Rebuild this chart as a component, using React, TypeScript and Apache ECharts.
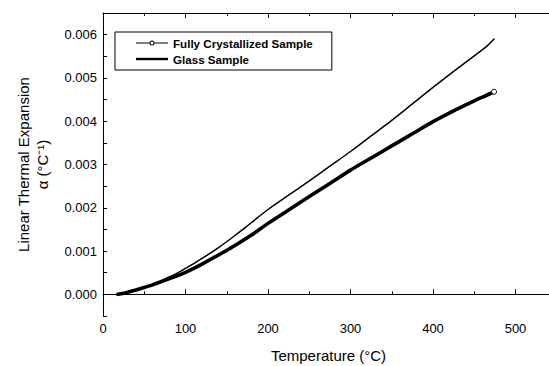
import React, { useEffect, useRef } from "react";
import * as echarts from "echarts";

const temps = [18, 30, 40, 50, 60, 70, 80, 90, 100, 110, 120, 140, 160, 180, 200, 225, 250, 275, 300, 325, 350, 375, 400, 425, 450, 465, 474];
const glassValues = [0, 0.00005, 0.0001, 0.00016, 0.00022, 0.0003, 0.0004, 0.00049, 0.0006, 0.00071, 0.00083, 0.00108, 0.00136, 0.00166, 0.00196, 0.00229, 0.00262, 0.00296, 0.0033, 0.00366, 0.00402, 0.0044, 0.00478, 0.00515, 0.00551, 0.00573, 0.0059];
const crystalValues = [0, 0.00005, 0.0001, 0.00016, 0.00022, 0.00029, 0.00036, 0.00043, 0.00051, 0.0006, 0.0007, 0.00091, 0.00113, 0.00137, 0.00164, 0.00195, 0.00226, 0.00256, 0.00287, 0.00315, 0.00343, 0.00371, 0.00399, 0.00424, 0.00447, 0.0046, 0.00468];
const seriesNames = ["Fully Crystallized Sample", "Glass Sample"];

const FONT = "Liberation Sans, Arial, Helvetica, sans-serif";

const crystalIcon =
  "path://M0,2.5L13.5,2.5L13.5,3.5L0,3.5Z M18.5,2.5L32,2.5L32,3.5L18.5,3.5Z M13.5,3A2.5,2.5,0,1,1,18.5,3A2.5,2.5,0,1,1,13.5,3Z M14.5,3A1.5,1.5,0,1,0,17.5,3A1.5,1.5,0,1,0,14.5,3Z";
const glassIcon = "path://M0,0L32,0L32,2.4L0,2.4Z";

export default function App() {
  const ref = useRef<HTMLDivElement>(null);
  useEffect(() => {
    if (!ref.current) return;
    const chart = echarts.init(ref.current, null, { renderer: "svg" });
    const crystalData = crystalValues.map((v, i) =>
      i === crystalValues.length - 1
        ? { value: [temps[i], v] }
        : { value: [temps[i], v], symbol: "none" }
    );
    const glassData = glassValues.map((v, i) => [temps[i], v]);
    const axisLineStyle = { color: "#000", width: 1 };
    chart.setOption({
      animation: false,
      backgroundColor: "#fff",
      textStyle: { fontFamily: FONT },
      grid: { left: 103, top: 13, right: -49, bottom: 50, containLabel: false, outerBoundsMode: "none" },
      legend: {
        orient: "vertical",
        left: 115,
        top: 32,
        padding: [5, 19, 5, 21],
        itemWidth: 32,
        itemHeight: 12,
        itemGap: 4,
        borderColor: "#000",
        borderWidth: 1,
        borderRadius: 0,
        selectedMode: false,
        textStyle: { fontFamily: FONT, fontWeight: "bold", fontSize: 11.6, color: "#000" },
        itemStyle: { borderWidth: 0 },
        data: [
          { name: seriesNames[0], icon: crystalIcon, itemStyle: { color: "#000", borderWidth: 0 } },
          { name: seriesNames[1], icon: glassIcon, itemStyle: { color: "#000", borderWidth: 0 } },
        ],
      },
      xAxis: [
        {
          type: "value",
          position: "bottom",
          min: 0,
          max: 600,
          interval: 100,
          axisLine: { show: true, lineStyle: axisLineStyle },
          axisTick: { show: true, inside: true, length: 5, lineStyle: axisLineStyle },
          minorTick: { show: true, splitNumber: 2, length: 3, lineStyle: axisLineStyle },
          splitLine: { show: false },
          axisLabel: { color: "#000", fontSize: 13, margin: 6, fontFamily: FONT, showMaxLabel: false },
          name: "Temperature (°C)",
          nameLocation: "middle",
          nameGap: 32,
          nameTextStyle: { color: "#000", fontSize: 15, fontFamily: FONT, padding: [0, 44, 0, 0] },
        },
        {
          type: "value",
          position: "top",
          min: 0,
          max: 600,
          interval: 100,
          axisLine: { show: true, lineStyle: axisLineStyle },
          axisTick: { show: true, inside: true, length: 5, lineStyle: axisLineStyle },
          minorTick: { show: true, splitNumber: 2, length: 3, lineStyle: axisLineStyle },
          splitLine: { show: false },
          axisLabel: { show: false },
        },
      ],
      yAxis: [
        {
          type: "value",
          min: -0.0005,
          max: 0.0065,
          interval: 0.0005,
          axisLine: { show: true, lineStyle: axisLineStyle },
          axisTick: { show: true, inside: true, length: 4, lineStyle: axisLineStyle },
          splitLine: { show: false },
          axisLabel: {
            color: "#000",
            fontSize: 13,
            margin: 6,
            fontFamily: FONT,
            formatter: (v: number) => {
              const k = Math.round(v * 2000);
              return k % 2 === 0 ? v.toFixed(3) : "";
            },
          },
          name: "Linear Thermal Expansion\nα (°C⁻¹)",
          nameLocation: "middle",
          nameGap: 51,
          nameTextStyle: { color: "#000", fontSize: 15, lineHeight: 19, fontFamily: FONT, align: "center" },
        },
      ],
      series: [
        {
          name: seriesNames[0],
          type: "line",
          data: crystalData,
          symbol: "circle",
          symbolSize: 5,
          showSymbol: true,
          smooth: 0.3,
          lineStyle: { color: "#000", width: 3.6, cap: "round", join: "round" },
          itemStyle: { color: "#fff", borderColor: "#000", borderWidth: 1 },
          z: 3,
        },
        {
          name: seriesNames[1],
          type: "line",
          data: glassData,
          symbol: "none",
          smooth: 0.3,
          lineStyle: { color: "#000", width: 1.5, cap: "round", join: "round" },
          itemStyle: { color: "#000" },
          z: 2,
        },
      ],
    });
    return () => chart.dispose();
  }, []);
  return (
    <div
      ref={ref}
      style={{ position: "fixed", left: 0, top: 0, width: 549, height: 366, background: "#fff" }}
    />
  );
}
